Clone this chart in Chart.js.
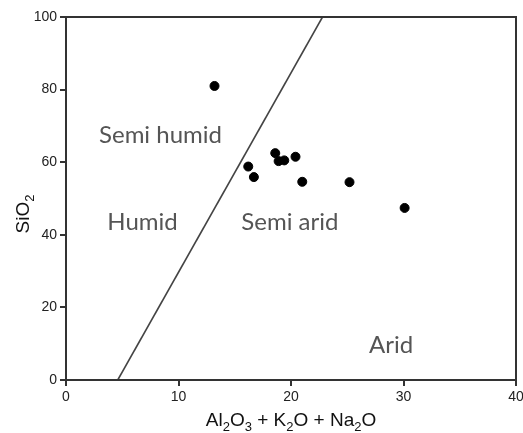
<!DOCTYPE html>
<html>
<head>
<meta charset="utf-8">
<script src="https://cdn.jsdelivr.net/npm/chart.js@4/dist/chart.umd.min.js"></script>
<style>
  html, body { margin: 0; padding: 0; background: #fff; }
  #wrap { width: 523px; height: 433px; }
</style>
</head>
<body>
<div id="wrap"><canvas id="chart_climate"></canvas></div>
<script>
// sample points: Al2O3 + K2O + Na2O vs SiO2
var sum_oxides = [13.2, 16.2, 16.7, 18.6, 18.9, 19.4, 20.4, 21.0, 25.2, 30.1];
var sio2 = [81.0, 58.8, 55.9, 62.5, 60.3, 60.5, 61.5, 54.6, 54.5, 47.4];

// boundary line between humid and arid fields
var boundary_x = [4.6, 22.8];
var boundary_y = [0, 100];

// field labels
var field_names = ['Semi humid', 'Humid', 'Semi arid', 'Arid'];
var field_x = [8.4, 6.8, 19.9, 28.9];
var field_y = [67.5, 43.5, 43.5, 9.6];

var x_ticks = [0, 10, 20, 30, 40];
var y_ticks = [0, 20, 40, 60, 80, 100];

// draws text with subscript digits, e.g. Al2O3
var draw_chem = function(ctx, text, x, y, size) {
    var parts = [];
    for (var i = 0; i < text.length; i++) {
        var ch = text[i];
        var sub = /[0-9]/.test(ch) && i > 0 && /[A-Za-z]/.test(text[i - 1]);
        parts.push({ ch: ch, sub: sub });
    }
    var big = size + 'px "Liberation Sans", Arial, sans-serif';
    var small = Math.round(size * 0.7) + 'px "Liberation Sans", Arial, sans-serif';
    var total = 0;
    parts.forEach(function(p) {
        ctx.font = p.sub ? small : big;
        p.w = ctx.measureText(p.ch).width;
        total += p.w;
    });
    var cx = x - total / 2;
    ctx.textAlign = 'left';
    ctx.textBaseline = 'middle';
    parts.forEach(function(p) {
        ctx.font = p.sub ? small : big;
        ctx.fillText(p.ch, cx, p.sub ? y + size * 0.35 : y);
        cx += p.w;
    });
};

var decor = {
    id: 'decor',
    afterDraw: function(chart) {
        var ctx = chart.ctx;
        var area = chart.chartArea;
        var xs = chart.scales.x;
        var ys = chart.scales.y;
        ctx.save();
        // frame
        ctx.strokeStyle = '#333';
        ctx.lineWidth = 2;
        ctx.strokeRect(area.left, area.top, area.right - area.left, area.bottom - area.top);

        // field labels
        ctx.fillStyle = '#555';
        ctx.font = '24px Lato, "Open Sans", sans-serif';
        ctx.textAlign = 'center';
        ctx.textBaseline = 'middle';
        for (var i = 0; i < field_names.length; i++) {
            ctx.fillText(field_names[i], xs.getPixelForValue(field_x[i]), ys.getPixelForValue(field_y[i]));
        }

        // axis titles
        ctx.fillStyle = '#111';
        draw_chem(ctx, 'Al2O3 + K2O + Na2O', (area.left + area.right) / 2, 421, 19);
        ctx.translate(24, 214);
        ctx.rotate(-Math.PI / 2);
        draw_chem(ctx, 'SiO2', 0, 0, 19);
        ctx.restore();
    }
};

var points = sum_oxides.map(function(v, i) { return { x: v, y: sio2[i] }; });
var boundary = boundary_x.map(function(v, i) { return { x: v, y: boundary_y[i] }; });

var tick_font = { family: '"Liberation Sans", Arial, sans-serif', size: 14 };

var chart = new Chart(document.getElementById('chart_climate'), {
    type: 'scatter',
    data: {
        datasets: [
            {
                data: points,
                backgroundColor: '#000',
                borderColor: '#000',
                pointRadius: 4.5,
                pointHoverRadius: 4.5
            },
            {
                type: 'line',
                data: boundary,
                borderColor: '#444',
                borderWidth: 1.6,
                pointRadius: 0,
                fill: false
            }
        ]
    },
    options: {
        responsive: true,
        maintainAspectRatio: false,
        animation: false,
        events: [],
        layout: { padding: { left: 0, right: 7, top: 17, bottom: 0 } },
        plugins: {
            legend: { display: false },
            tooltip: { enabled: false }
        },
        scales: {
            x: {
                type: 'linear',
                min: 0,
                max: 40,
                afterBuildTicks: function(scale) {
                    scale.ticks = x_ticks.map(function(v) { return { value: v }; });
                },
                afterFit: function(scale) {
                    scale.height = 53;
                    scale.paddingLeft = 0;
                    scale.paddingRight = 0;
                },
                grid: { drawOnChartArea: false, drawTicks: true, tickLength: 6, color: '#333', lineWidth: 2 },
                border: { display: true, color: '#333', width: 2 },
                ticks: { color: '#222', font: tick_font, padding: 3, maxRotation: 0 }
            },
            y: {
                type: 'linear',
                min: 0,
                max: 100,
                afterBuildTicks: function(scale) {
                    scale.ticks = y_ticks.map(function(v) { return { value: v }; });
                },
                afterFit: function(scale) {
                    scale.width = 66;
                    scale.paddingTop = 0;
                    scale.paddingBottom = 0;
                },
                grid: { drawOnChartArea: false, drawTicks: true, tickLength: 6, color: '#333', lineWidth: 2 },
                border: { display: true, color: '#333', width: 2 },
                ticks: { color: '#222', font: tick_font, padding: 3 }
            }
        }
    },
    plugins: [decor]
});
</script>
</body>
</html>
